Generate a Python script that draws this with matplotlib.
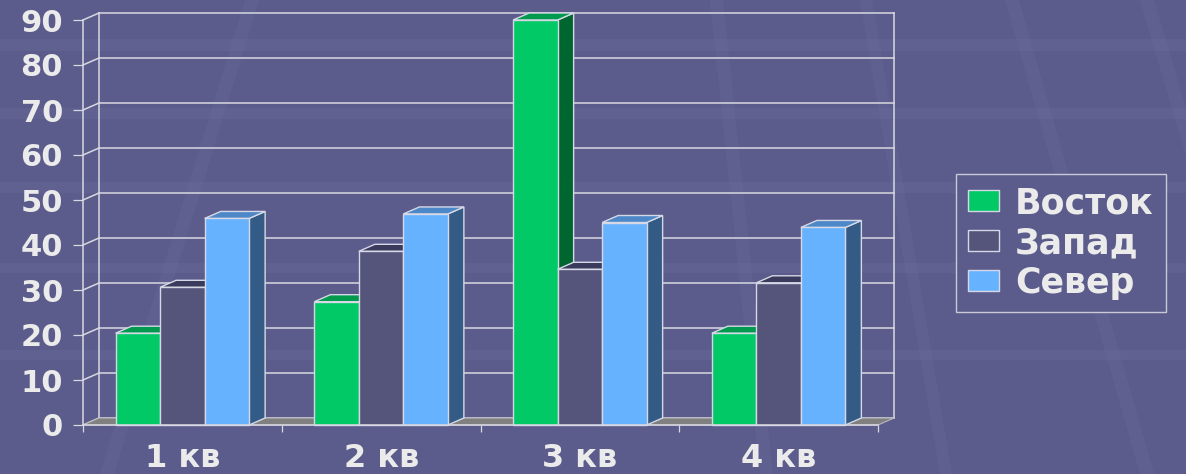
import matplotlib
matplotlib.use("Agg")
import matplotlib.pyplot as plt
from matplotlib.patches import Polygon, Patch
import numpy as np

categories = ["1 кв", "2 кв", "3 кв", "4 кв"]
series_names = ["Восток", "Запад", "Север"]
vostok = [20.4, 27.4, 90.0, 20.4]
zapad = [30.6, 38.6, 34.6, 31.6]
sever = [45.9, 46.9, 45.0, 43.9]
y_ticks = [0, 10, 20, 30, 40, 50, 60, 70, 80, 90]

series_values = [vostok, zapad, sever]
front_colors = ["#00C966", "#55547B", "#66B2FF"]
top_colors = ["#009A4E", "#3A3A5C", "#4C88C8"]
side_colors = ["#006630", "#2E2E4A", "#335B86"]
edge_col = "#D6D8E6"
line_col = "#D8D8E2"
text_col = "#EBEBEB"
bg_col = "#5C5C8C"

W, H = 1186, 474
fig = plt.figure(figsize=(W / 100, H / 100), dpi=100)
fig.patch.set_facecolor(bg_col)

# background decoration (template bands)
bg = fig.add_axes([0, 0, 1, 1], zorder=-5)
bg.set_xlim(0, W)
bg.set_ylim(H, 0)
bg.axis("off")
for y0, y1 in [(39, 51), (108, 119), (182, 193), (263, 273), (350, 360)]:
    bg.axhspan(y0, y1, color="#6E6E9E", alpha=0.3, lw=0)
for xt, xb, wd in [(710, 760, 13), (860, 940, 12), (1005, 1140, 14), (1140, 1280, 14),
                   (245, 100, 14)]:
    bg.add_patch(Polygon([(xt, 0), (xt + wd, 0), (xb + wd, H), (xb, H)],
                         closed=True, color="#6E6E9E", alpha=0.25, lw=0))

# front plane of the chart in pixels
left_px, right_px, base_px, top_px = 83, 878, 425, 20
ax = fig.add_axes([left_px / W, (H - base_px) / H,
                   (right_px - left_px) / W, (base_px - top_px) / H])
ax.set_facecolor("none")
n = len(categories)
ax.set_xlim(-0.5, n - 0.5)
ax.set_ylim(0, 90)

ux = n / (right_px - left_px)      # data units per px (x)
uy = 90 / (base_px - top_px)       # data units per px (y)
dx = 16 * ux
dy = 7 * uy

x0, x1 = -0.5, n - 0.5
# back wall gridlines + left wall diagonals
for v in y_ticks:
    ax.plot([x0 + dx, x1 + dx], [v + dy, v + dy], color=line_col, lw=1.1,
            clip_on=False, zorder=1)
    ax.plot([x0, x0 + dx], [v, v + dy], color=line_col, lw=1.1,
            clip_on=False, zorder=1)
for xv in (x0 + dx, x1 + dx):
    ax.plot([xv, xv], [dy, 90 + dy], color=line_col, lw=1.1, clip_on=False, zorder=1)

# floor
ax.add_patch(Polygon([(x0, 0), (x1, 0), (x1 + dx, dy), (x0 + dx, dy)], closed=True,
                     facecolor="#808080", edgecolor="#B8B8C0", lw=0.8,
                     clip_on=False, zorder=2))

# bars
bw = 44.5 / ((right_px - left_px) / n)
z = 3
for ci in range(n):
    for si, vals in enumerate(series_values):
        v = vals[ci]
        bx0 = ci - 1.5 * bw + si * bw
        bx1 = bx0 + bw
        side = [(bx1, 0), (bx1 + dx, dy), (bx1 + dx, v + dy), (bx1, v)]
        top = [(bx0, v), (bx1, v), (bx1 + dx, v + dy), (bx0 + dx, v + dy)]
        front = [(bx0, 0), (bx1, 0), (bx1, v), (bx0, v)]
        for pts, col in ((side, side_colors[si]), (top, top_colors[si]),
                         (front, front_colors[si])):
            ax.add_patch(Polygon(pts, closed=True, facecolor=col, edgecolor=edge_col,
                                 lw=1.0, joinstyle="miter", clip_on=False, zorder=z))
            z += 1

# axes styling
for s in ("top", "right"):
    ax.spines[s].set_visible(False)
for s in ("left", "bottom"):
    ax.spines[s].set_color(line_col)
    ax.spines[s].set_linewidth(1.1)
    ax.spines[s].set_zorder(100)

ax.set_yticks(y_ticks)
ax.set_yticklabels([str(t) for t in y_ticks])
ax.tick_params(axis="y", direction="out", length=7.2, width=0.9, color=line_col,
               pad=7.2, labelcolor=text_col, labelsize=22)
for lab in ax.get_yticklabels():
    lab.set_fontweight("bold")

ax.set_xticks([i - 0.5 for i in range(n + 1)])
ax.set_xticklabels([])
ax.tick_params(axis="x", which="major", direction="out", length=5.2, width=0.9,
               color=line_col)
ax.set_xticks(list(range(n)), minor=True)
ax.set_xticklabels(categories, minor=True)
ax.tick_params(axis="x", which="minor", length=0, pad=13, labelcolor=text_col,
               labelsize=23)
for lab in ax.get_xticklabels(minor=True):
    lab.set_fontweight("bold")

# legend
handles = [Patch(facecolor=front_colors[i], edgecolor=edge_col, lw=1.0,
                 label=series_names[i]) for i in range(3)]
leg = fig.legend(handles=handles, loc="upper left",
                 bbox_to_anchor=(956 / W, 1 - 174 / H),
                 frameon=True, fancybox=False, framealpha=1,
                 prop={"weight": "bold", "size": 25},
                 handlelength=0.9, handleheight=0.55, handletextpad=0.45,
                 labelspacing=0.17, borderpad=0.35, borderaxespad=0)
leg.get_frame().set_facecolor(bg_col)
leg.get_frame().set_edgecolor("#C8C8D8")
leg.get_frame().set_linewidth(1.0)
for t in leg.get_texts():
    t.set_color(text_col)

fig.savefig("out.png", dpi=100, facecolor=fig.get_facecolor())
